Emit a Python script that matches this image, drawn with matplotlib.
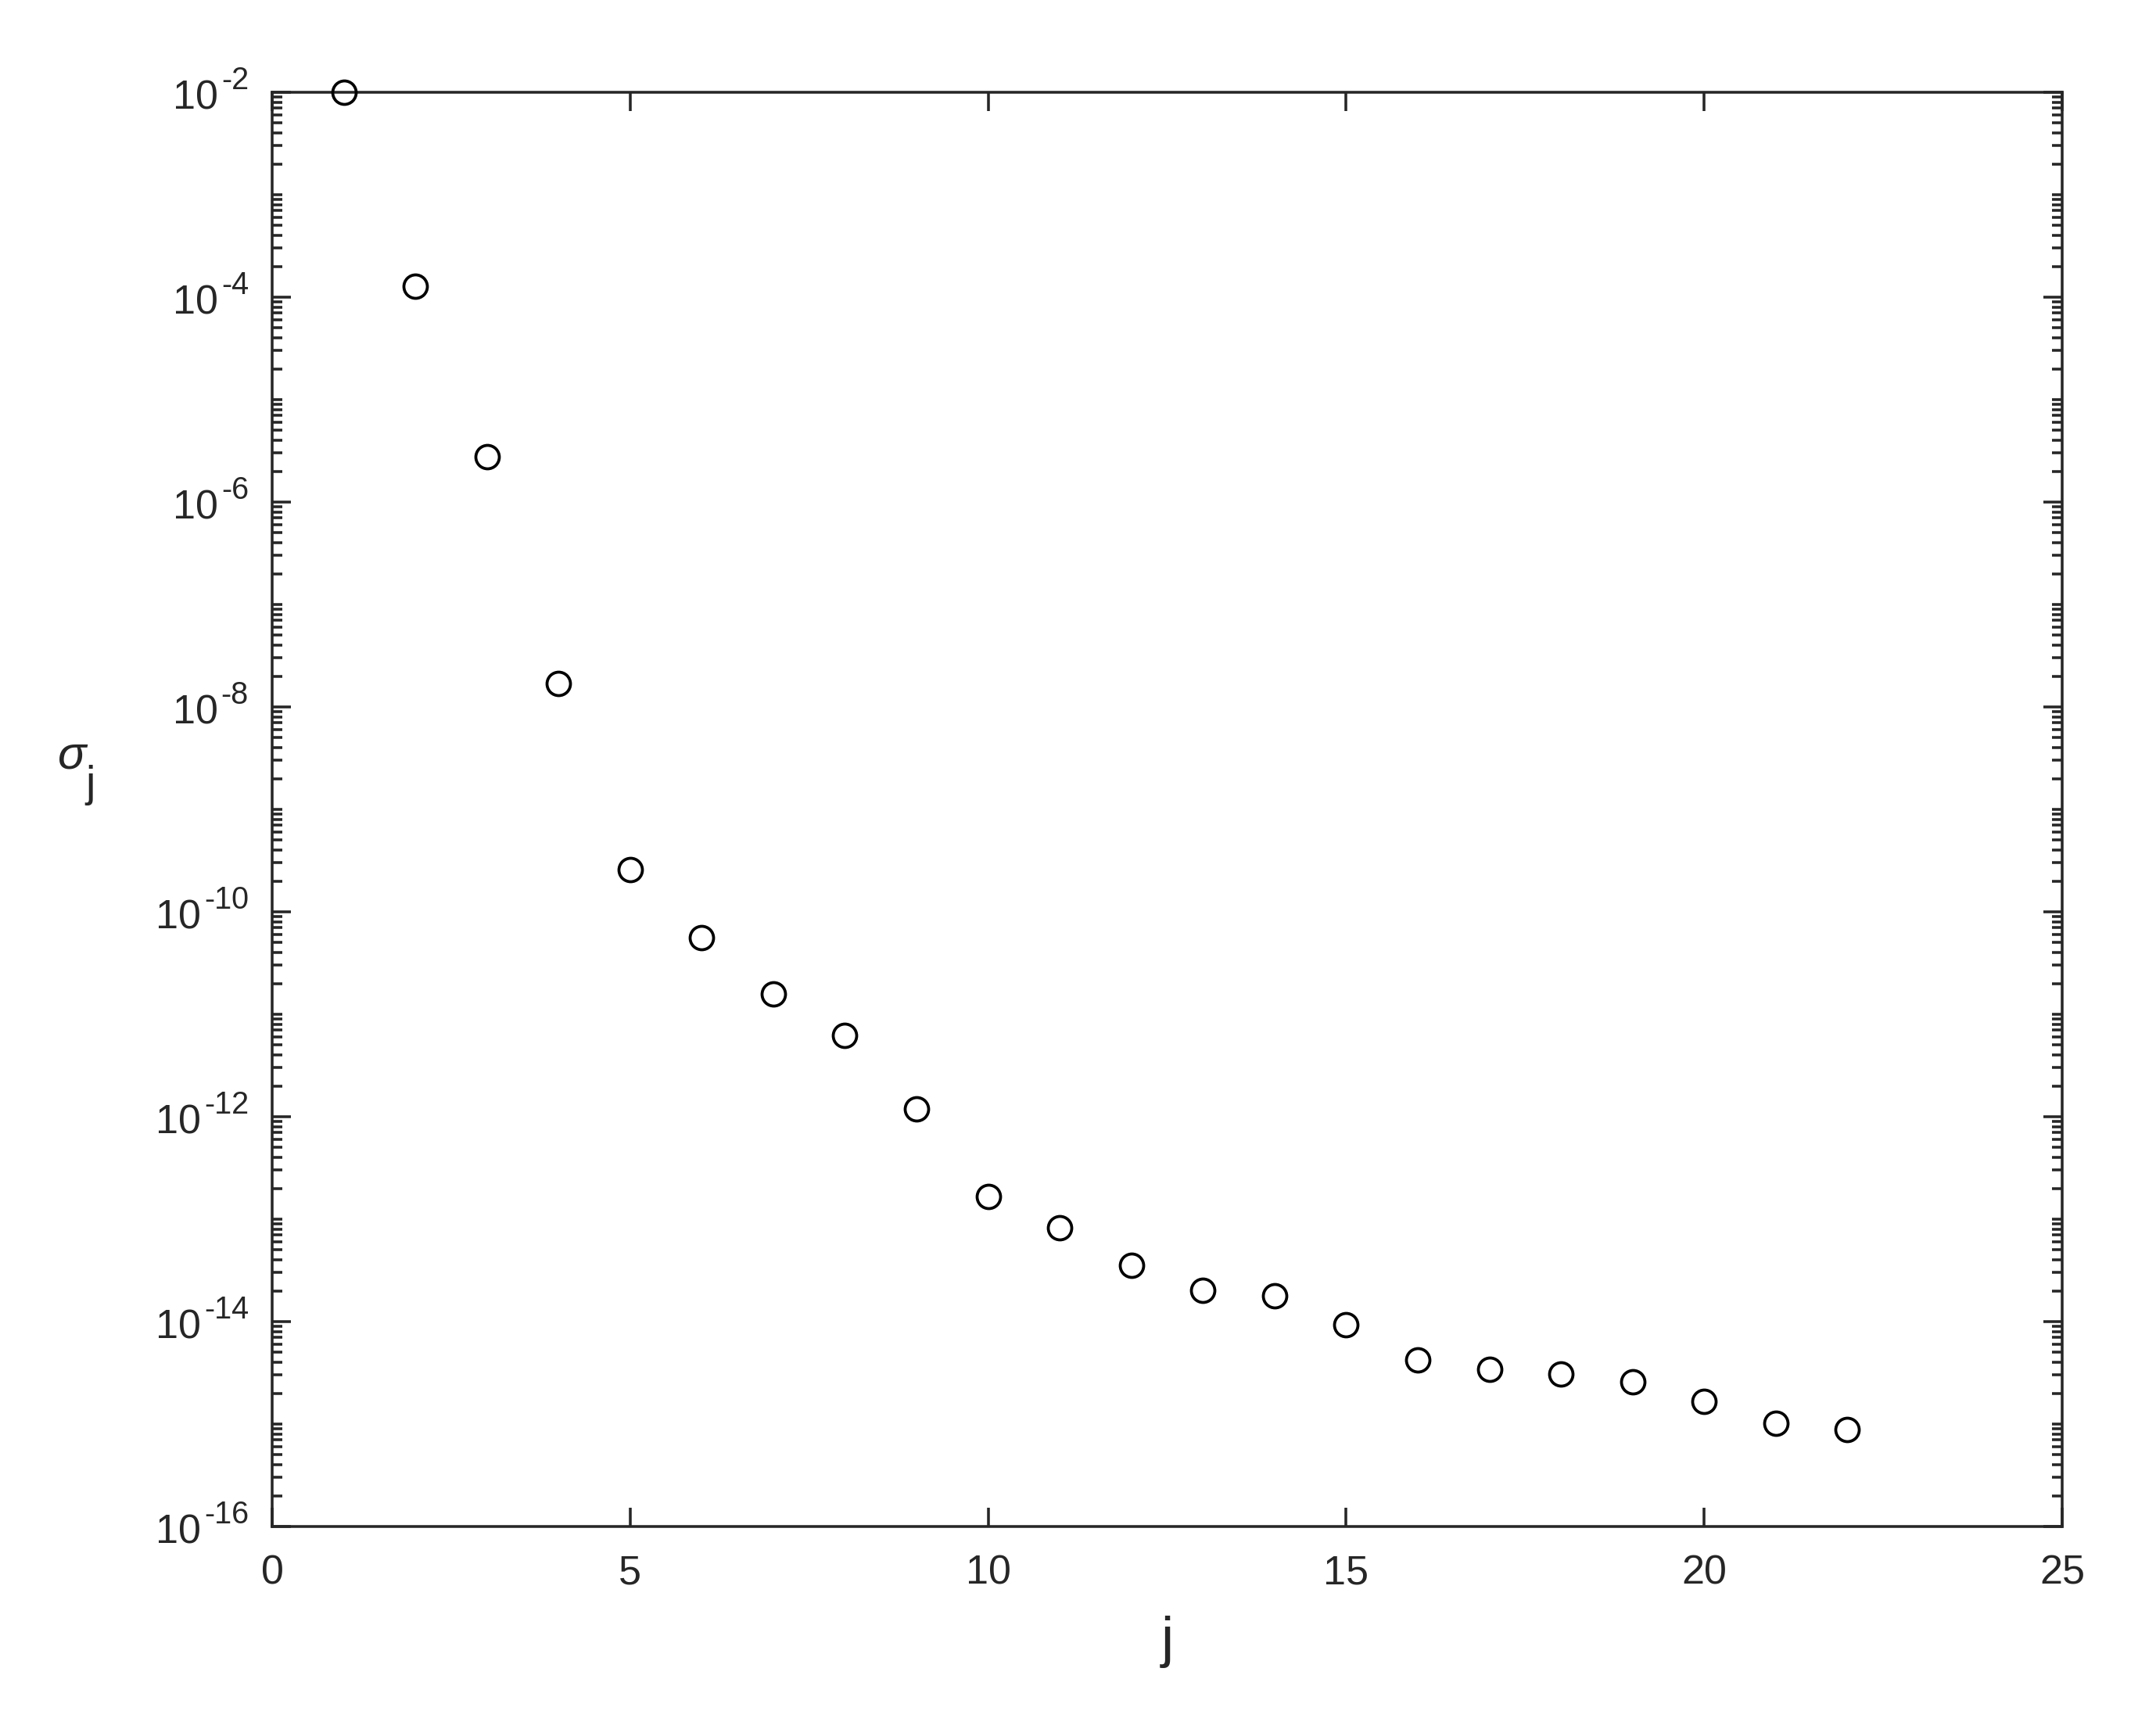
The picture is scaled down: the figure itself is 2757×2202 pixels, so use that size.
import numpy as np
import matplotlib
matplotlib.use('Agg')
import matplotlib.pyplot as plt
import matplotlib.transforms as mtransforms
from matplotlib.ticker import LogLocator, NullFormatter, FixedLocator

# singular values
j = np.arange(1, 23)
sigma = [1.0e-2, 1.28e-4, 2.77e-6, 1.69e-8, 2.6e-10, 5.6e-11, 1.57e-11, 6.2e-12,
         1.2e-12, 1.66e-13, 8.2e-14, 3.55e-14, 2.03e-14, 1.8e-14, 9.4e-15, 4.2e-15,
         3.4e-15, 3.1e-15, 2.6e-15, 1.66e-15, 1.02e-15, 8.9e-16]

x_ticks = [0, 5, 10, 15, 20, 25]
y_exponents = [-16, -14, -12, -10, -8, -6, -4, -2]

plt.rcParams['font.family'] = ['Liberation Sans', 'DejaVu Sans']

dark = '#262626'
fig = plt.figure(figsize=(2757 / 300, 2202 / 300), dpi=300)
ax = fig.add_axes([348 / 2757, 1 - 1952 / 2202, (2637 - 348) / 2757, (1952 - 118) / 2202])

ax.semilogy(j, sigma, 'o', mfc='none', mec='black', ms=7.2, mew=0.9, clip_on=False, zorder=3)

ax.set_xlim(0, 25)
ax.set_ylim(1e-16, 1e-2)
ax.xaxis.set_major_locator(FixedLocator(x_ticks))
ax.yaxis.set_major_locator(FixedLocator([10.0 ** e for e in y_exponents]))
ax.yaxis.set_minor_locator(LogLocator(base=10, subs=np.arange(1, 10), numticks=100))
ax.yaxis.set_minor_formatter(NullFormatter())
ax.set_xticklabels([str(v) for v in x_ticks])
ax.set_yticklabels([])

for s in ax.spines.values():
    s.set_color(dark)
    s.set_linewidth(0.85)
ax.tick_params(which='both', direction='in', top=True, right=True, colors=dark,
               width=0.85, labelsize=12.5, labelcolor=dark)
ax.tick_params(which='major', length=5.8)
ax.tick_params(axis='x', pad=8.5)
ax.tick_params(which='minor', length=3.1)

# MATLAB style 10^n tick labels: hyphen exponent, large and raised
trans = mtransforms.blended_transform_factory(ax.transAxes, ax.transData)
for e in y_exponents:
    sup = ax.annotate('%d' % e, xy=(0, 10.0 ** e), xycoords=trans,
                      xytext=(-7.2, 3.5), textcoords='offset points',
                      ha='right', va='center', fontsize=9.5, color=dark)
    ax.annotate('10', xy=(0, 0.5), xycoords=sup, xytext=(-1, -5.4),
                textcoords='offset points', ha='right', va='center',
                fontsize=12.5, color=dark)

# axis labels
ax.annotate('j', xy=(0.5, 0), xycoords='axes fraction', xytext=(0, -39.8),
            textcoords='offset points', ha='center', va='baseline',
            fontsize=17.5, color=dark)
ax.annotate('\u03c3', xy=(0, 0.5), xycoords='axes fraction', xytext=(-61.4, 12.7),
            textcoords='offset points', ha='center', va='baseline',
            fontsize=14.5, style='italic', color=dark)
ax.annotate('j', xy=(0, 0.5), xycoords='axes fraction', xytext=(-55.9, 4.1),
            textcoords='offset points', ha='center', va='baseline',
            fontsize=13.3, color=dark)

fig.savefig('out.png', dpi=300, facecolor='white')
